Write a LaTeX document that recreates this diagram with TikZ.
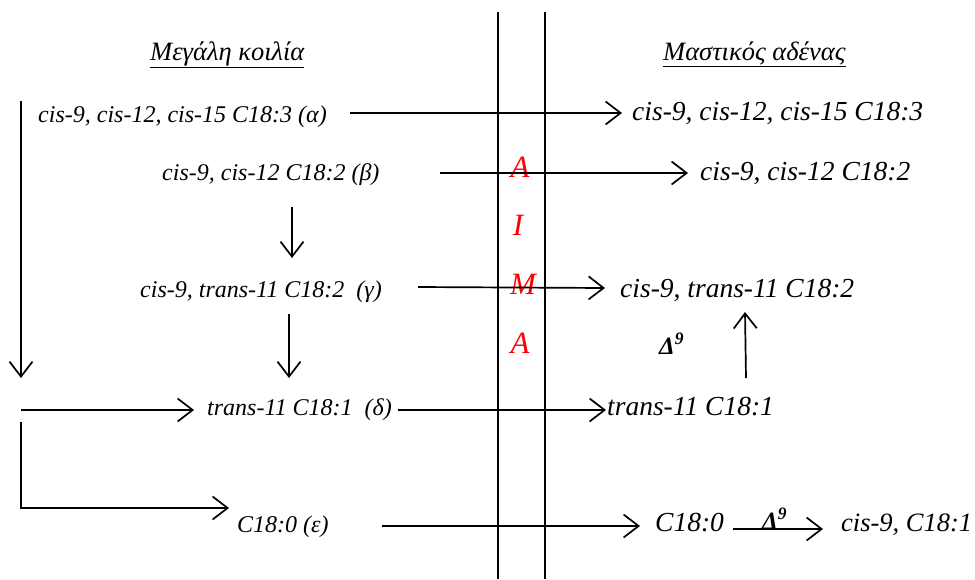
\documentclass[tikz,border=0pt]{standalone}
\usepackage{fontspec}
\setmainfont{Liberation Serif}
\usetikzlibrary{arrows.meta}
\begin{document}
\begin{tikzpicture}[x=1pt,y=-1pt,
  lbl/.style={inner sep=0pt, anchor=base west, font=\fontsize{24}{28}\selectfont\itshape},
  rlbl/.style={inner sep=0pt, anchor=base west, font=\fontsize{27.5}{32}\selectfont\itshape},
  ttl/.style={inner sep=0pt, anchor=base west, font=\fontsize{26.5}{30}\selectfont\itshape},
  redl/.style={inner sep=0pt, anchor=base, text=red, font=\fontsize{31}{34}\selectfont\itshape},
  dlt/.style={inner sep=0pt, anchor=base west, font=\fontsize{25}{28}\selectfont\bfseries\itshape},
  arr/.style={line width=1.7pt, -{Straight Barb[length=15pt,width=23pt,line width=1.7pt]}},
  ln/.style={line width=1.7pt}
]
\useasboundingbox (0,0) rectangle (975,579);
% membrane
\coordinate (m1t) at (498,12); \coordinate (m1b) at (498,579);
\coordinate (m2t) at (545,12); \coordinate (m2b) at (545,579);
\draw[ln] (m1t) -- (m1b);
\draw[ln] (m2t) -- (m2b);
% titles
\node[ttl] (t1) at (150,60) {\underline{Μεγάλη κοιλία}};
\node[ttl] (t2) at (663,60) {\underline{Μαστικός αδένας}};
% left labels
\node[lbl] (l1) at (38,122) {cis-9, cis-12, cis-15 C18:3 (α)};
\node[lbl] (l2) at (162,180) {cis-9, cis-12 C18:2 (β)};
\node[lbl] (l3) at (140,297) {cis-9, trans-11 C18:2\ \ (γ)};
\node[lbl] (l4) at (207,415) {trans-11 C18:1\ \ (δ)};
\node[lbl] (l5) at (237,532) {C18:0 (ε)};
% right labels
\node[rlbl] (r1) at (632,120) {cis-9, cis-12, cis-15 C18:3};
\node[rlbl] (r2) at (700,180) {cis-9, cis-12 C18:2};
\node[rlbl] (r3) at (620,297) {cis-9, trans-11 C18:2};
\node[rlbl] (r4) at (607,415) {trans-11 C18:1};
\node[rlbl] (r5) at (655,531) {C18:0};
\node[rlbl, font=\fontsize{26.5}{30}\selectfont\itshape] (r6) at (841,531) {cis-9, C18:1};
% red letters
\node[redl] (ra) at (520,177) {A};
\node[redl] (ri) at (518,235) {I};
\node[redl] (rm) at (523,294) {M};
\node[redl] (rb) at (520,353) {A};
% deltas
\node[dlt] (d1) at (659,354) {Δ\textsuperscript{9}};
\node[dlt] (d2) at (762,529) {Δ\textsuperscript{9}};
% transport arrows
\coordinate (a1s) at (350,113); \coordinate (a1e) at (622,113);
\coordinate (a2s) at (440,173); \coordinate (a2e) at (688,173);
\coordinate (a3s) at (418,287); \coordinate (a3e) at (605,288);
\coordinate (a4s) at (398,410); \coordinate (a4e) at (606,410);
\coordinate (a5s) at (382,526); \coordinate (a5e) at (640,526);
\coordinate (a6s) at (733,529); \coordinate (a6e) at (823,529);
\draw[arr] (a1s) -- (a1e);
\draw[arr] (a2s) -- (a2e);
\draw[arr] (a3s) -- (a3e);
\draw[arr] (a4s) -- (a4e);
\draw[arr] (a5s) -- (a5e);
\draw[arr] (a6s) -- (a6e);
% vertical arrows
\coordinate (v1s) at (292,207); \coordinate (v1e) at (292,258);
\coordinate (v2s) at (289,314); \coordinate (v2e) at (289,378);
\coordinate (v3s) at (746,378); \coordinate (v3e) at (745,312);
\draw[arr] (v1s) -- (v1e);
\draw[arr] (v2s) -- (v2e);
\draw[arr] (v3s) -- (v3e);
% left side
\coordinate (ls) at (21,101); \coordinate (le) at (21,378);
\draw[arr] (ls) -- (le);
\coordinate (h4s) at (21,410); \coordinate (h4e) at (194,410);
\draw[arr] (h4s) -- (h4e);
\coordinate (es) at (21,422); \coordinate (ec) at (21,508); \coordinate (ee) at (229,508);
\draw[arr] (es) -- (ec) -- (ee);
\end{tikzpicture}
\end{document}
